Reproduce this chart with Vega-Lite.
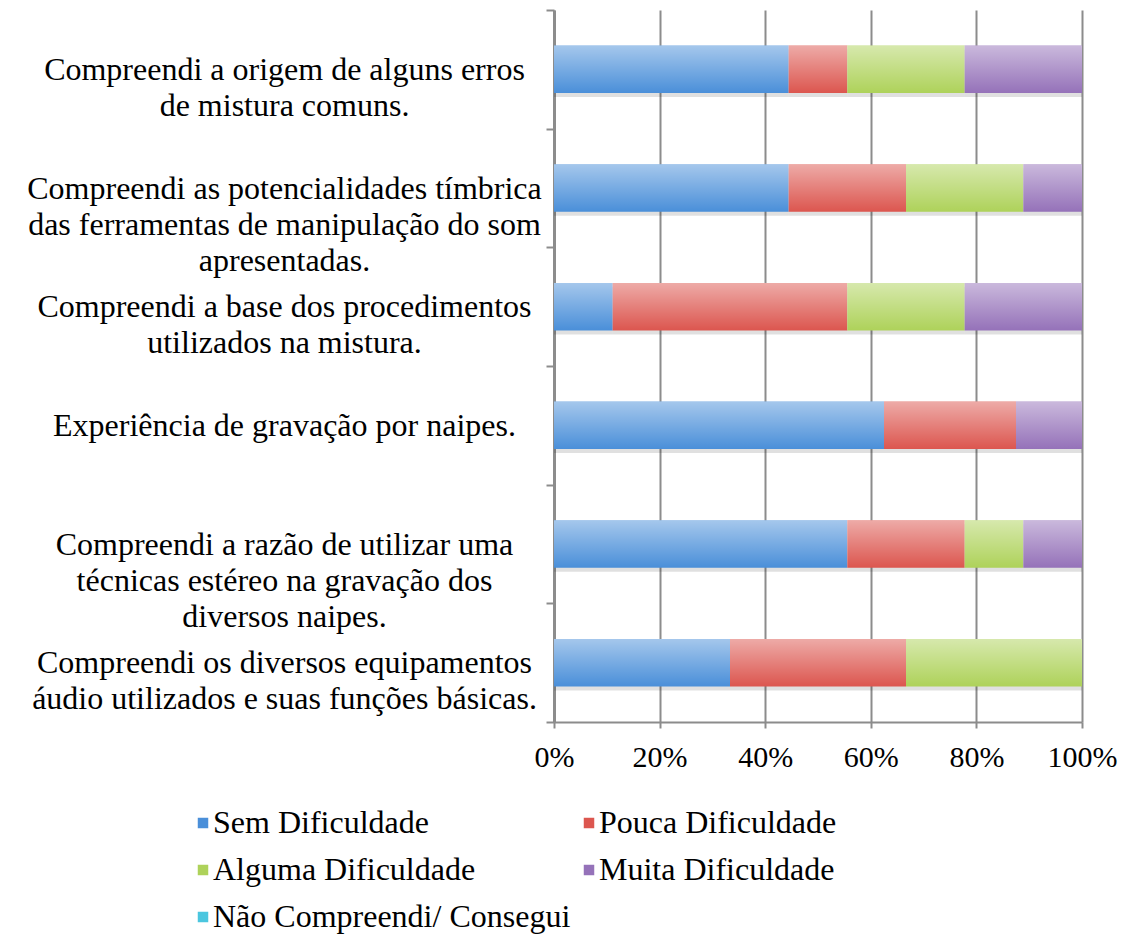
{
  "$schema": "https://vega.github.io/schema/vega-lite/v6.json",
  "width": 528,
  "height": 712,
  "autosize": "none",
  "padding": {"left": 554, "top": 10, "right": 39, "bottom": 212},
  "background": "white",
  "config": {"view": {"stroke": null}, "font": "Liberation Serif"},
  "data": {
    "values": [
      {"item": "Compreendi a origem de alguns erros\nde mistura comuns.", "level": "Sem Dificuldade", "k": 1, "n": 4},
      {"item": "Compreendi a origem de alguns erros\nde mistura comuns.", "level": "Pouca Dificuldade", "k": 2, "n": 1},
      {"item": "Compreendi a origem de alguns erros\nde mistura comuns.", "level": "Alguma Dificuldade", "k": 3, "n": 2},
      {"item": "Compreendi a origem de alguns erros\nde mistura comuns.", "level": "Muita Dificuldade", "k": 4, "n": 2},
      {"item": "Compreendi a origem de alguns erros\nde mistura comuns.", "level": "Não Compreendi/ Consegui", "k": 5, "n": 0},
      {"item": "Compreendi as potencialidades tímbrica\ndas ferramentas de manipulação do som\napresentadas.", "level": "Sem Dificuldade", "k": 1, "n": 4},
      {"item": "Compreendi as potencialidades tímbrica\ndas ferramentas de manipulação do som\napresentadas.", "level": "Pouca Dificuldade", "k": 2, "n": 2},
      {"item": "Compreendi as potencialidades tímbrica\ndas ferramentas de manipulação do som\napresentadas.", "level": "Alguma Dificuldade", "k": 3, "n": 2},
      {"item": "Compreendi as potencialidades tímbrica\ndas ferramentas de manipulação do som\napresentadas.", "level": "Muita Dificuldade", "k": 4, "n": 1},
      {"item": "Compreendi as potencialidades tímbrica\ndas ferramentas de manipulação do som\napresentadas.", "level": "Não Compreendi/ Consegui", "k": 5, "n": 0},
      {"item": "Compreendi a base dos procedimentos\nutilizados na mistura.", "level": "Sem Dificuldade", "k": 1, "n": 1},
      {"item": "Compreendi a base dos procedimentos\nutilizados na mistura.", "level": "Pouca Dificuldade", "k": 2, "n": 4},
      {"item": "Compreendi a base dos procedimentos\nutilizados na mistura.", "level": "Alguma Dificuldade", "k": 3, "n": 2},
      {"item": "Compreendi a base dos procedimentos\nutilizados na mistura.", "level": "Muita Dificuldade", "k": 4, "n": 2},
      {"item": "Compreendi a base dos procedimentos\nutilizados na mistura.", "level": "Não Compreendi/ Consegui", "k": 5, "n": 0},
      {"item": "Experiência de gravação por naipes.", "level": "Sem Dificuldade", "k": 1, "n": 5},
      {"item": "Experiência de gravação por naipes.", "level": "Pouca Dificuldade", "k": 2, "n": 2},
      {"item": "Experiência de gravação por naipes.", "level": "Alguma Dificuldade", "k": 3, "n": 0},
      {"item": "Experiência de gravação por naipes.", "level": "Muita Dificuldade", "k": 4, "n": 1},
      {"item": "Experiência de gravação por naipes.", "level": "Não Compreendi/ Consegui", "k": 5, "n": 0},
      {"item": "Compreendi a razão de utilizar uma\ntécnicas estéreo na gravação dos\ndiversos naipes.", "level": "Sem Dificuldade", "k": 1, "n": 5},
      {"item": "Compreendi a razão de utilizar uma\ntécnicas estéreo na gravação dos\ndiversos naipes.", "level": "Pouca Dificuldade", "k": 2, "n": 2},
      {"item": "Compreendi a razão de utilizar uma\ntécnicas estéreo na gravação dos\ndiversos naipes.", "level": "Alguma Dificuldade", "k": 3, "n": 1},
      {"item": "Compreendi a razão de utilizar uma\ntécnicas estéreo na gravação dos\ndiversos naipes.", "level": "Muita Dificuldade", "k": 4, "n": 1},
      {"item": "Compreendi a razão de utilizar uma\ntécnicas estéreo na gravação dos\ndiversos naipes.", "level": "Não Compreendi/ Consegui", "k": 5, "n": 0},
      {"item": "Compreendi os diversos equipamentos\náudio utilizados e suas funções básicas.", "level": "Sem Dificuldade", "k": 1, "n": 3},
      {"item": "Compreendi os diversos equipamentos\náudio utilizados e suas funções básicas.", "level": "Pouca Dificuldade", "k": 2, "n": 3},
      {"item": "Compreendi os diversos equipamentos\náudio utilizados e suas funções básicas.", "level": "Alguma Dificuldade", "k": 3, "n": 3},
      {"item": "Compreendi os diversos equipamentos\náudio utilizados e suas funções básicas.", "level": "Muita Dificuldade", "k": 4, "n": 0},
      {"item": "Compreendi os diversos equipamentos\náudio utilizados e suas funções básicas.", "level": "Não Compreendi/ Consegui", "k": 5, "n": 0}
    ]
  },
  "encoding": {
    "y": {
      "field": "item",
      "type": "nominal",
      "sort": null,
      "scale": {"paddingInner": 0, "paddingOuter": 0},
      "axis": {
        "title": null,
        "labelExpr": "split(datum.label, '\\n')",
        "labelFont": "Liberation Serif",
        "labelFontSize": 32,
        "labelLineHeight": 36,
        "labelColor": "#000000",
        "labelAlign": "center",
        "labelBaseline": "middle",
        "labelLimit": 1000,
        "labelPadding": 262,
        "tickBand": "extent",
        "ticks": true,
        "tickSize": 8,
        "tickWidth": 2,
        "tickColor": "#8c8c8c",
        "domain": true,
        "domainColor": "#8c8c8c",
        "domainWidth": 3,
        "grid": false,
        "encode": {
          "labels": {
            "dx": {"signal": "indexof(datum.value, 'origem') >= 0 ? 5 : indexof(datum.value, 'potencialidades') >= 0 ? -11 : indexof(datum.value, 'base dos') >= 0 ? -1 : indexof(datum.value, 'Experiência') >= 0 ? 12 : indexof(datum.value, 'razão') >= 0 ? 15 : -7"}
          }
        }
      }
    }
  },
  "layer": [
    {
      "mark": {"type": "bar", "height": {"band": 0.4}, "color": "#000000", "opacity": 0.12, "yOffset": 4},
      "encoding": {
        "x": {"field": "n", "type": "quantitative", "stack": "normalize", "scale": {"domain": [0, 1]}, "title": null},
        "detail": {"field": "k", "type": "quantitative"},
        "order": {"field": "k", "type": "quantitative"}
      }
    },
    {
      "mark": {"type": "bar", "height": {"band": 0.4}},
      "encoding": {
        "x": {
          "field": "n",
          "type": "quantitative",
          "stack": "normalize",
          "scale": {"domain": [0, 1]},
          "title": null,
          "axis": {
            "title": null,
            "format": ".0%",
            "values": [0, 0.2, 0.4, 0.6, 0.8, 1],
            "labelFont": "Liberation Serif",
            "labelFontSize": 30,
            "labelColor": "#000000",
            "labelPadding": 14,
            "labelFlush": false,
            "labelOverlap": false,
            "grid": true,
            "gridColor": "#8c8c8c",
            "gridWidth": 2,
            "ticks": true,
            "tickSize": 6,
            "tickWidth": 2,
            "tickColor": "#8c8c8c",
            "domain": true,
            "domainColor": "#8c8c8c",
            "domainWidth": 2
          }
        },
        "color": {
          "field": "level",
          "type": "nominal",
          "scale": {
            "domain": ["Sem Dificuldade", "Pouca Dificuldade", "Alguma Dificuldade", "Muita Dificuldade", "Não Compreendi/ Consegui"],
            "range": ["#4a8fd9", "#dc564f", "#aed25a", "#9572b9", "#4bc6df"]
          },
          "legend": {
            "title": null,
            "orient": "none",
            "legendX": -367,
            "legendY": 797,
            "direction": "horizontal",
            "columns": 2,
            "columnPadding": 2,
            "rowPadding": 15,
            "symbolType": "square",
            "symbolSize": 110,
            "symbolStrokeWidth": 0,
            "labelFont": "Liberation Serif",
            "labelFontSize": 32,
            "labelColor": "#000000",
            "labelOffset": -6,
            "labelLimit": 1000
          }
        },
        "order": {"field": "k", "type": "quantitative"}
      }
    },
    {
      "mark": {
        "type": "bar",
        "height": {"band": 0.4},
        "color": {
          "gradient": "linear",
          "x1": 0, "y1": 0, "x2": 0, "y2": 1,
          "stops": [
            {"offset": 0, "color": "rgba(255,255,255,0.5)"},
            {"offset": 1, "color": "rgba(255,255,255,0)"}
          ]
        }
      },
      "encoding": {
        "x": {"field": "n", "type": "quantitative", "stack": "normalize", "scale": {"domain": [0, 1]}, "title": null},
        "detail": {"field": "k", "type": "quantitative"},
        "order": {"field": "k", "type": "quantitative"}
      }
    }
  ]
}
